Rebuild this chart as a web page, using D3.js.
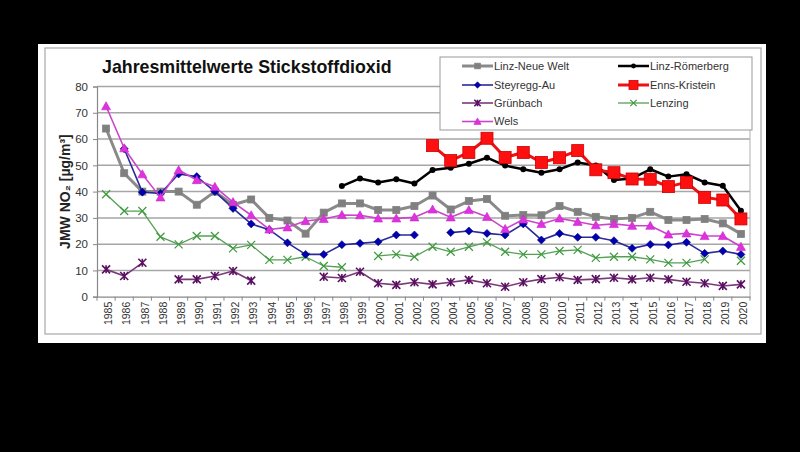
<!DOCTYPE html>
<html><head><meta charset="utf-8">
<script src="https://cdn.jsdelivr.net/npm/d3@7"></script>
<style>body{margin:0;background:#000;}svg{display:block;font-family:Arial,"Liberation Sans",sans-serif;}</style>
</head><body>
<svg id="c" width="800" height="452"></svg>
<script>
const years = d3.range(1985, 2021).map(String);
const yTicks = [0,10,20,30,40,50,60,70,80];
const title = "Jahresmittelwerte Stickstoffdioxid";
const yTitle = "JMW NO₂ [µg/m³]";

const linzNeueWelt = [64,47,40,40,40,35,40,35,37,30,29,24,32,35.5,35.5,33,33,34.5,38.5,33.2,36.4,37.2,30.8,31.1,31,34.5,32.3,30.4,29.6,30,32.3,29.2,29.2,29.6,27.9,23.9];
const linzRoemerberg = [null,null,null,null,null,null,null,null,null,null,null,null,null,42.1,45,43.5,44.7,43.1,48.2,49.1,50.6,52.9,49.9,48.5,47.2,48.5,51.1,49.9,44.4,45,48.5,45.7,46.6,43.5,42.2,32.7];
const steyreggAu = [null,56.3,39.8,39.3,46.7,45.7,40,33.6,27.7,25.5,20.5,16.1,16.1,19.8,20.3,20.9,23.5,23.5,null,24.4,25,24.1,23.5,27.7,21.6,24.1,22.6,22.6,21.3,18.4,19.9,19.7,20.7,16.5,17.4,16.1];
const ennsKristein = [null,null,null,null,null,null,null,null,null,null,null,null,null,null,null,null,null,null,57.5,51.8,54.9,60.3,53,54.9,51.1,52.9,55.6,48.3,47.2,44.8,44.7,41.9,43.5,37.8,36.8,29.6];
const gruenbach = [10.4,7.9,12.9,null,6.6,6.6,7.9,9.8,6.1,null,null,null,7.6,7.1,9.5,5.1,4.5,5.5,4.7,5.5,6.4,5.1,3.8,5.5,6.7,7.4,6.4,6.7,7.2,6.6,7.2,6.6,5.7,5.1,4.1,4.7];
const lenzing = [39,32.6,32.6,22.8,19.9,23.1,23.1,18.4,19.7,14,14,15.2,11.7,11.2,null,15.5,16.1,15.2,19,17.1,19,20.7,17.1,16.1,16.1,17.4,17.8,14.8,15.2,15.2,14.2,12.9,12.9,14.2,null,13.7];
const wels = [72.5,56.5,46.6,37.8,48.2,44.4,41.8,36,31,25.6,26.4,28.8,29.6,31.1,31,29.8,29.8,30.2,33.2,30.2,33,30.4,25.8,29.4,27.7,29.8,28.5,27.2,27.7,27,27,23.7,24.1,23.1,23.1,19];

const seriesNames = ["Linz-Neue Welt","Linz-Römerberg","Steyregg-Au","Enns-Kristein","Grünbach","Lenzing","Wels"];
const seriesValues = [linzNeueWelt, linzRoemerberg, steyreggAu, ennsKristein, gruenbach, lenzing, wels];

const styles = {
  "Linz-Neue Welt": {line:"#8a8a8a", width:3, marker:"square", size:7, fill:"#808080", stroke:"#808080"},
  "Linz-Römerberg": {line:"#000000", width:2.5, marker:"circle", size:6, fill:"#000", stroke:"#000"},
  "Steyregg-Au": {line:"#2a2a9a", width:1.6, marker:"diamond", size:8, fill:"#0000b0", stroke:"#000080"},
  "Enns-Kristein": {line:"#ee1111", width:3, marker:"square", size:12, fill:"#ff1010", stroke:"#cc0000"},
  "Grünbach": {line:"#7a3a7a", width:1.6, marker:"star", size:8, fill:"none", stroke:"#5a1060"},
  "Lenzing": {line:"#55a055", width:1.3, marker:"x", size:8, fill:"none", stroke:"#3c9a3c"},
  "Wels": {line:"#cc44cc", width:1.6, marker:"triangle", size:9, fill:"#dd33dd", stroke:"#cc22cc"}
};
const drawOrder = ["Linz-Neue Welt","Lenzing","Grünbach","Steyregg-Au","Wels","Linz-Römerberg","Enns-Kristein"];

const svg = d3.select("#c");
// frame
svg.append("rect").attr("x",38).attr("y",44).attr("width",728).attr("height",299).attr("fill","#fff");
svg.append("rect").attr("x",45).attr("y",48).attr("width",716).attr("height",286).attr("fill","none").attr("stroke","#a8a8a8").attr("stroke-width",1.2);

const x = d3.scalePoint().domain(years).range([97,750]).padding(0.5);
const y = d3.scaleLinear().domain([0,80]).range([296.7,86.5]);

// gridlines
svg.append("g").selectAll("line").data(yTicks.filter(d=>d>0)).join("line")
  .attr("x1",97).attr("x2",750).attr("y1",d=>y(d)).attr("y2",d=>y(d))
  .attr("stroke","#a6a6a6").attr("stroke-width",1.5);
svg.append("line").attr("x1",750).attr("x2",750).attr("y1",y(80)).attr("y2",y(0)).attr("stroke","#b0b0b0").attr("stroke-width",1);

// y axis
const yAxis = d3.axisLeft(y).tickValues(yTicks).tickSize(4).tickPadding(5);
const gy = svg.append("g").attr("transform","translate(97,0)").call(yAxis);
gy.select(".domain").attr("stroke","#888").attr("stroke-width",1.2);
gy.selectAll(".tick line").attr("stroke","#888");
gy.selectAll("text").attr("font-size",11.5).attr("fill","#333");

// x axis
const xAxis = d3.axisBottom(x).tickSize(0).tickPadding(0);
const gx = svg.append("g").attr("transform",`translate(0,${y(0)})`).call(xAxis);
gx.select(".domain").attr("stroke","#888").attr("stroke-width",1.2);
gx.selectAll(".tick text").attr("font-size",10.5).attr("fill","#333")
  .attr("transform","translate(3,5) rotate(-90)").attr("text-anchor","end").attr("dy","0").attr("y",0).attr("x",0)
  .attr("dominant-baseline","middle");
// boundary ticks
const step = x.step();
svg.append("g").selectAll("line").data(d3.range(years.length+1)).join("line")
  .attr("x1",i=>97+i*step).attr("x2",i=>97+i*step).attr("y1",y(0)).attr("y2",y(0)+4)
  .attr("stroke","#888");

// title
svg.append("text").attr("x",102).attr("y",73).attr("font-size",17.8).attr("font-weight","bold").attr("fill","#111").text(title);
// y title
svg.append("text").attr("transform",`translate(70,${y(40)}) rotate(-90)`).attr("text-anchor","middle")
  .attr("font-size",14).attr("font-weight","bold").attr("fill","#222").text(yTitle);

function drawMarker(g, type, cx, cy, st){
  const s = st.size;
  if(type==="square"){
    g.append("rect").attr("x",cx-s/2).attr("y",cy-s/2).attr("width",s).attr("height",s).attr("fill",st.fill).attr("stroke",st.stroke).attr("stroke-width",0.8);
  } else if(type==="circle"){
    g.append("circle").attr("cx",cx).attr("cy",cy).attr("r",s/2).attr("fill",st.fill);
  } else if(type==="diamond"){
    const h=s/2;
    g.append("path").attr("d",`M${cx},${cy-h}L${cx+h},${cy}L${cx},${cy+h}L${cx-h},${cy}Z`).attr("fill",st.fill).attr("stroke",st.stroke).attr("stroke-width",0.6);
  } else if(type==="triangle"){
    const h=s/2;
    g.append("path").attr("d",`M${cx},${cy-h}L${cx+h},${cy+h*0.8}L${cx-h},${cy+h*0.8}Z`).attr("fill",st.fill).attr("stroke",st.stroke).attr("stroke-width",0.6);
  } else if(type==="x"){
    const h=s/2;
    g.append("path").attr("d",`M${cx-h},${cy-h}L${cx+h},${cy+h}M${cx-h},${cy+h}L${cx+h},${cy-h}`).attr("stroke",st.stroke).attr("stroke-width",1.2).attr("fill","none");
  } else if(type==="star"){
    const h=s/2;
    g.append("path").attr("d",`M${cx-h},${cy-h}L${cx+h},${cy+h}M${cx-h},${cy+h}L${cx+h},${cy-h}M${cx},${cy-h}L${cx},${cy+h}`).attr("stroke",st.stroke).attr("stroke-width",1.6).attr("fill","none");
  }
}

const line = d3.line().defined(d=>d.v!=null).x(d=>x(d.year)).y(d=>y(d.v));
drawOrder.forEach(name=>{
  const vals = seriesValues[seriesNames.indexOf(name)];
  const st = styles[name];
  const data = years.map((yr,i)=>({year:yr, v:vals[i]}));
  const g = svg.append("g");
  g.append("path").datum(data).attr("d",line).attr("fill","none").attr("stroke",st.line).attr("stroke-width",st.width).attr("stroke-linejoin","round");
  data.filter(d=>d.v!=null).forEach(d=>drawMarker(g, st.marker, x(d.year), y(d.v), st));
});

// legend
const lg = svg.append("g");
lg.append("rect").attr("x",440).attr("y",57).attr("width",312).attr("height",73).attr("fill","#fff").attr("stroke","#999").attr("stroke-width",1);
const legendPos = [
  ["Linz-Neue Welt",462,66],["Linz-Römerberg",618,66],
  ["Steyregg-Au",462,85],["Enns-Kristein",618,85],
  ["Grünbach",462,103],["Lenzing",618,103],
  ["Wels",462,121.5]
];
legendPos.forEach(([name,lx,ly])=>{
  const st = styles[name];
  lg.append("line").attr("x1",lx).attr("x2",lx+31).attr("y1",ly).attr("y2",ly).attr("stroke",st.line).attr("stroke-width",st.width);
  const mst = Object.assign({}, st, {size: name==="Enns-Kristein"?9:st.size*0.8});
  drawMarker(lg, st.marker, lx+15.5, ly, mst);
  lg.append("text").attr("x",lx+32).attr("y",ly).attr("dy","0.35em").attr("font-size",11).attr("fill","#333").text(name);
});
</script>
</body></html>
